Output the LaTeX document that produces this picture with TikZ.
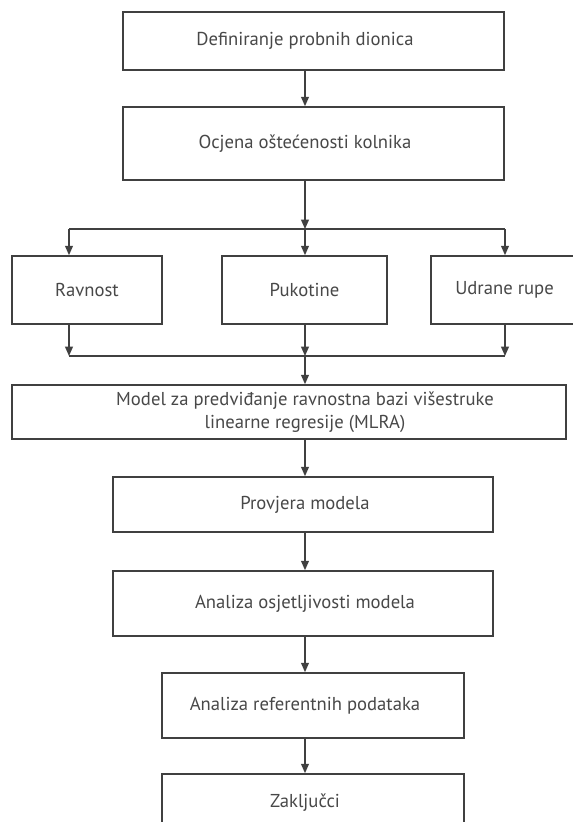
\documentclass[tikz,border=0pt]{standalone}
\usepackage{fontspec}
\setmainfont{PT Sans}
\usetikzlibrary{arrows.meta}
\definecolor{linija}{RGB}{64,64,64}
\definecolor{slova}{RGB}{72,72,72}
\tikzset{
  blok/.style={draw=linija, line width=1.2pt, rectangle, inner sep=0pt, fill=white},
  natpis/.style={text=slova, font=\fontsize{14}{17.3}\selectfont, align=center, inner sep=0pt},
  strelica/.style={draw=linija, line width=1.2pt, -{Triangle[length=7pt,width=5.8pt]}},
  crta/.style={draw=linija, line width=1.2pt},
}
\begin{document}
\begin{tikzpicture}[x=0.75pt,y=0.75pt,yscale=-1,xscale=1]
    %uncomment if require: \path (0,822); %set diagram left start at 0, and has height of 822
    \fill[white] (0,0) rectangle (573,822);
    \useasboundingbox (0,0) rectangle (573,822);
    \clip (0,0) rectangle (573,822);

    % Coordinates
    \coordinate (os) at (305,0);
    \coordinate (grana-l) at (69,229);
    \coordinate (grana-s) at (305,229);
    \coordinate (grana-d) at (505,229);
    \coordinate (spoj-l) at (69,356);
    \coordinate (spoj-s) at (305,356);
    \coordinate (spoj-d) at (505,356);

    %Shape: Rectangle
    \node[blok, minimum width=285.75pt, minimum height=43.5pt, label={[natpis,xshift=-6.4pt]center:Definiranje probnih dionica}] (defin) at (313.5,41) {};
    %Shape: Rectangle
    \node[blok, minimum width=285.75pt, minimum height=54.75pt, label={[natpis,xshift=-6.4pt]center:Ocjena oštećenosti kolnika}] (ocjena) at (313.5,143.5) {};
    %Shape: Rectangle
    \node[blok, minimum width=112.5pt, minimum height=51pt, label={[natpis]center:Ravnost}] (ravnost) at (87,290) {};
    %Shape: Rectangle
    \node[blok, minimum width=123.75pt, minimum height=51pt, label={[natpis]center:Pukotine}] (pukotine) at (304.5,290) {};
    %Shape: Rectangle
    \node[blok, minimum width=110.25pt, minimum height=51pt, label={[natpis]center:Udrane rupe}] (udrane) at (504.5,290) {};
    %Shape: Rectangle
    \node[blok, minimum width=415.5pt, minimum height=40.5pt, label={[natpis,xshift=12pt]center:{Model za predviđanje ravnostna bazi višestruke\\linearne regresije (MLRA)}}] (mlra) at (289,412) {};
    %Shape: Rectangle
    \node[blok, minimum width=285pt, minimum height=41.25pt, label={[natpis,xshift=1.5pt]center:Provjera modela}] (provjera) at (303,504.5) {};
    %Shape: Rectangle
    \node[blok, minimum width=285pt, minimum height=48.75pt, label={[natpis,xshift=1.5pt]center:Analiza osjetljivosti modela}] (osjet) at (303,603.5) {};
    %Shape: Rectangle
    \node[blok, minimum width=226.5pt, minimum height=48.75pt, label={[natpis,xshift=-6pt]center:Analiza referentnih podataka}] (referent) at (313,705.5) {};
    %Shape: Rectangle
    \node[blok, minimum width=226.5pt, minimum height=48.75pt, label={[natpis,xshift=-6pt,yshift=2.6pt]center:Zaključci}] (zakljuc) at (313,806.5) {};

    %Straight Lines
    \draw[strelica] (defin.south -| os) -- (ocjena.north -| os);
    \draw[strelica] (ocjena.south -| os) -- (grana-s);
    \draw[crta] (grana-l) -- (grana-d);
    \draw[strelica] (grana-l) -- (ravnost.north -| grana-l);
    \draw[strelica] (grana-s) -- (pukotine.north -| grana-s);
    \draw[strelica] (grana-d) -- (udrane.north -| grana-d);
    %Straight Lines
    \draw[strelica] (ravnost.south -| spoj-l) -- (spoj-l);
    \draw[strelica] (pukotine.south -| spoj-s) -- (spoj-s);
    \draw[strelica] (udrane.south -| spoj-d) -- (spoj-d);
    \draw[crta] (spoj-l) -- (spoj-d);
    \draw[strelica] (spoj-s) -- (mlra.north -| os);
    %Straight Lines
    \draw[strelica] (mlra.south -| os) -- (provjera.north -| os);
    \draw[strelica] (provjera.south -| os) -- (osjet.north -| os);
    \draw[strelica] (osjet.south -| os) -- (referent.north -| os);
    \draw[strelica] (referent.south -| os) -- (zakljuc.north -| os);
\end{tikzpicture}
\end{document}
